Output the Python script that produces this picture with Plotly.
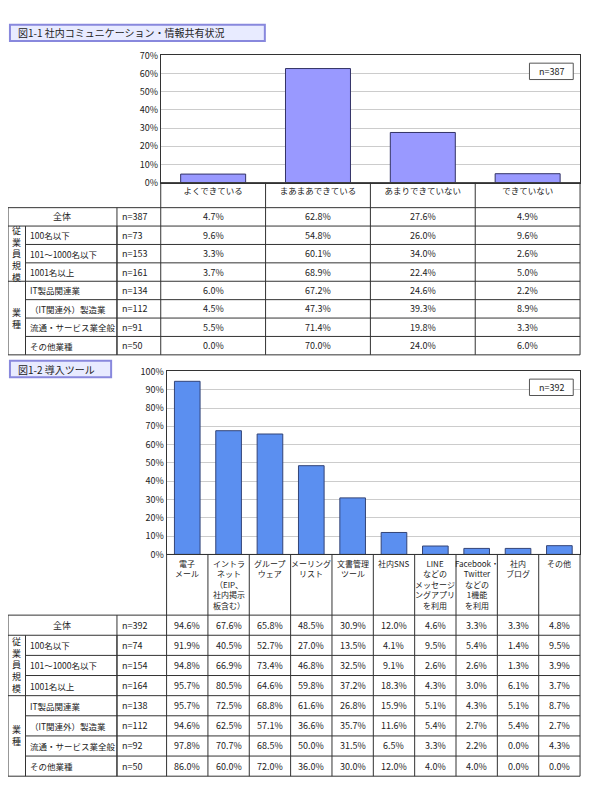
import plotly.graph_objects as go

W, H = 574, 774
RW, RH = 590, 790
FONT = "Noto Sans CJK JP"

# ---- data: chart 1 ----
cats1 = ["よくできている", "まあまあできている", "あまりできていない", "できていない"]
rows1_names = ["全体", "100名以下", "101〜1000名以下", "1001名以上", "IT製品関連業", "（IT関連外）製造業", "流通・サービス業全般", "その他業種"]
rows1_n = ["n=387", "n=73", "n=153", "n=161", "n=134", "n=112", "n=91", "n=50"]
vals1 = [
    [4.7, 62.8, 27.6, 4.9],
    [9.6, 54.8, 26.0, 9.6],
    [3.3, 60.1, 34.0, 2.6],
    [3.7, 68.9, 22.4, 5.0],
    [6.0, 67.2, 24.6, 2.2],
    [4.5, 47.3, 39.3, 8.9],
    [5.5, 71.4, 19.8, 3.3],
    [0.0, 70.0, 24.0, 6.0],
]
# ---- data: chart 2 ----
cats2 = ["電子<br>メール", "イントラ<br>ネット<br>（EIP、<br>社内掲示<br>板含む）", "グループ<br>ウェア", "メーリング<br>リスト",
         "文書管理<br>ツール", "社内SNS", "LINE<br>などの<br>メッセージ<br>ングアプリ<br>を利用",
         "Facebook・<br>Twitter<br>などの<br>1機能<br>を利用", "社内<br>ブログ", "その他"]
rows2_names = rows1_names
rows2_n = ["n=392", "n=74", "n=154", "n=164", "n=138", "n=112", "n=92", "n=50"]
vals2 = [
    [94.6, 67.6, 65.8, 48.5, 30.9, 12.0, 4.6, 3.3, 3.3, 4.8],
    [91.9, 40.5, 52.7, 27.0, 13.5, 4.1, 9.5, 5.4, 1.4, 9.5],
    [94.8, 66.9, 73.4, 46.8, 32.5, 9.1, 2.6, 2.6, 1.3, 3.9],
    [95.7, 80.5, 64.6, 59.8, 37.2, 18.3, 4.3, 3.0, 6.1, 3.7],
    [95.7, 72.5, 68.8, 61.6, 26.8, 15.9, 5.1, 4.3, 5.1, 8.7],
    [94.6, 62.5, 57.1, 36.6, 35.7, 11.6, 5.4, 2.7, 5.4, 2.7],
    [97.8, 70.7, 68.5, 50.0, 31.5, 6.5, 3.3, 2.2, 0.0, 4.3],
    [86.0, 60.0, 72.0, 36.0, 30.0, 12.0, 4.0, 4.0, 0.0, 0.0],
]
groups = [("従<br>業<br>員<br>規<br>模", 1, 3), ("業<br>種", 4, 7)]

def px(x): return x / RW
def py(y): return 1 - y / RH

fig = go.Figure()
fig.add_trace(go.Bar(x=cats1, y=vals1[0], marker=dict(color="#9999ff", line=dict(color="#333366", width=1)),
                     width=0.62, xaxis="x", yaxis="y", showlegend=False))
fig.add_trace(go.Bar(x=list(range(len(cats2))), y=vals2[0], marker=dict(color="#5b8ff0", line=dict(color="#334477", width=1)),
                     width=0.62, xaxis="x2", yaxis="y2", showlegend=False))

shapes, ann = [], []
def line(x0, y0, x1, y1, w=1, c="#333"):
    shapes.append(dict(type="line", xref="paper", yref="paper", x0=px(x0), y0=py(y0), x1=px(x1), y1=py(y1),
                       line=dict(color=c, width=w)))
def text(x, y, s, size=9, xa="center", ya="middle"):
    ann.append(dict(xref="paper", yref="paper", x=px(x), y=py(y), text=s, showarrow=False, xanchor=xa, yanchor=ya,
                    font=dict(size=size, family=FONT, color="#222")))

def build(title, ty, tw, x0_plot, top, zero, cats, col_lbl_bottom, rows_names, rows_n, vals, nlabel, rowh, ncolw):
    shapes.append(dict(type="rect", xref="paper", yref="paper", x0=px(2), y0=py(ty+17), x1=px(2+tw), y1=py(ty),
                       fillcolor="#e8ebff", line=dict(color="#8888dd", width=2)))
    text(8, ty+8.5, title, 10, "left")
    shapes.append(dict(type="rect", xref="paper", yref="paper", x0=px(536), y0=py(top+25), x1=px(581), y1=py(top+8),
                       fillcolor="white", line=dict(color="#555", width=1)))
    text(558.5, top+16.5, nlabel, 9)
    ncols = len(cats)
    colw = (588 - x0_plot) / ncols
    table_bottom = col_lbl_bottom + rowh * len(rows_names)
    for i in range(ncols + 1):
        line(x0_plot + i * colw, zero, x0_plot + i * colw, table_bottom)
    line(x0_plot, zero, 588, zero)
    for r in range(len(rows_names) + 1):
        y = col_lbl_bottom + r * rowh
        xs = 18 if r in (2, 3, 5, 6, 7) else 0
        line(xs, y, 588, y)
    line(0, col_lbl_bottom, 0, table_bottom)
    line(18, col_lbl_bottom + rowh, 18, table_bottom)
    line(112, col_lbl_bottom + rowh, 112, table_bottom)
    line(x0_plot - ncolw, col_lbl_bottom, x0_plot - ncolw, table_bottom)
    for g, a, b in groups:
        text(9, col_lbl_bottom + (a + b + 1) / 2 * rowh, g, 9)
    for r, (nm, n, vs) in enumerate(zip(rows_names, rows_n, vals)):
        yc = col_lbl_bottom + (r + 0.5) * rowh
        if r == 0:
            text((x0_plot - ncolw) / 2, yc, nm)
        else:
            text(21, yc, nm, 8.5, "left")
        text(x0_plot - ncolw + 3, yc, n, 9, "left")
        for i, v in enumerate(vs):
            text(x0_plot + (i + 0.5) * colw, yc, f"{v:.1f}%", 9)
    return colw

build("図1-1 社内コミュニケーション・情報共有状況", 10, 262, 157, 42, 174, cats1, 200, rows1_names, rows1_n, vals1, "n=387", 19.1, 45)
colw2 = build("図1-2 導入ツール", 359, 104, 163, 370, 560, cats2, 623, rows2_names, rows2_n, vals2, "n=392", 20.9, 51)
for i, c in enumerate(cats2):
    text(163 + (i + 0.5) * colw2, 562, c, 8, "center", "top")

fig.update_layout(
    width=W, height=H, margin=dict(l=0, r=0, t=0, b=0), paper_bgcolor="white", plot_bgcolor="white",
    font=dict(family=FONT, size=9, color="#222"),
    xaxis=dict(domain=[px(157), px(588)], anchor="y", showline=True, linecolor="#333", mirror=True,
               tickfont=dict(size=8.5), ticks=""),
    yaxis=dict(domain=[py(174), py(42)], range=[0, 70], dtick=10, ticksuffix="%", showgrid=True, gridcolor="#ccc",
               showline=True, linecolor="#333", mirror=True, zeroline=False, tickfont=dict(size=9)),
    xaxis2=dict(domain=[px(163), px(588)], anchor="y2", range=[-0.5, len(cats2) - 0.5], showticklabels=False,
                showline=True, linecolor="#333", mirror=True, ticks=""),
    yaxis2=dict(domain=[py(560), py(370)], anchor="x2", range=[0, 100], dtick=10, ticksuffix="%", showgrid=True,
                gridcolor="#ccc", showline=True, linecolor="#333", mirror=True, zeroline=False, tickfont=dict(size=9)),
    shapes=shapes, annotations=ann,
)
fig.write_html("out.html")
